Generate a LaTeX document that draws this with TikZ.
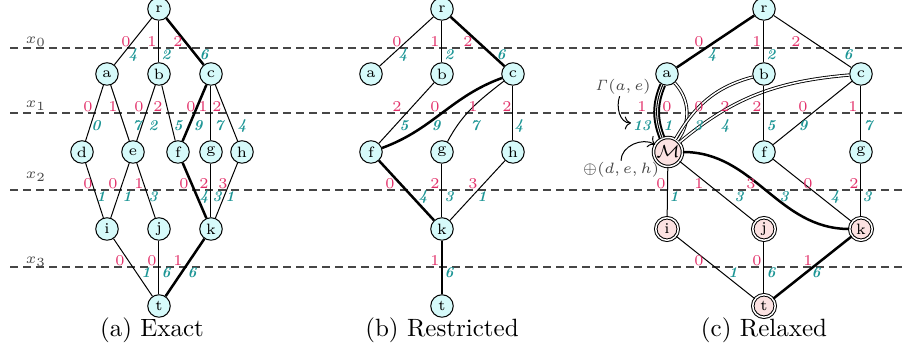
\documentclass[tikz,border=0pt]{standalone}
\usetikzlibrary{arrows.meta}

\definecolor{labred}{RGB}{226,46,104}
\definecolor{labteal}{RGB}{30,150,150}
\definecolor{nodecyan}{RGB}{214,250,250}
\definecolor{nodepink}{RGB}{252,226,226}
\definecolor{guide}{RGB}{70,70,70}

\newcommand{\smallsix}{\fontsize{6}{7}\selectfont}

\tikzset{
  vtx/.style={circle, draw=black, fill=nodecyan, line width=0.4pt,
    minimum size=9pt, inner sep=0pt, font=\smallsix},
  mvtx/.style={vtx, fill=nodepink, double, double distance=0.6pt},
  bigm/.style={mvtx, minimum size=11.6pt, font=\scriptsize},
  plainedge/.style={line width=0.4pt},
  heavy/.style={line width=1pt},
  merged/.style={double, double distance=0.6pt, line width=0.35pt},
  tripleout/.style={double, double distance=1.1pt, line width=0.8pt},
  layer/.style={draw=guide, line width=0.45pt, dash pattern=on 3.2pt off 2pt},
  lname/.style={text=guide, font=\smallsix, inner sep=0pt},
  ann/.style={text=guide, font=\smallsix, inner sep=0.5pt},
  rl/.style={text=labred, font=\smallsix, inner sep=0pt},
  tl/.style={text=labteal, font=\smallsix\bfseries\itshape, inner sep=0pt},
  subcap/.style={font=\normalsize, anchor=base, inner sep=0pt},
}

\begin{document}
\begin{tikzpicture}[x=0.4pt, y=0.4pt]
\useasboundingbox (0,0) rectangle (903,-350);

% layer separators and their names
\foreach \yy/\nm/\ly in {48/0/42, 113/1/106, 190/2/177, 267/3/262} {
  \draw[layer] (10,-\yy) -- (903,-\yy);
  \node[lname] (lay\nm) at (36,-\ly) {$x_{\nm}$};
}

% ---------------- (a) exact ----------------
\node[vtx] (Ar) at (159,-9) {r};
\node[vtx] (Aa) at (107,-74) {a};
\node[vtx] (Ab) at (159,-74) {b};
\node[vtx] (Ac) at (211,-74) {c};
\node[vtx] (Ad) at (82,-152) {d};
\node[vtx] (Ae) at (133,-152) {e};
\node[vtx] (Af) at (178,-152) {f};
\node[vtx] (Ag) at (211,-152) {g};
\node[vtx] (Ah) at (242,-152) {h};
\node[vtx] (Ai) at (107,-229) {i};
\node[vtx] (Aj) at (159,-229) {j};
\node[vtx] (Ak) at (211,-229) {k};
\node[vtx] (At) at (159,-306) {t};

\draw[plainedge] (Ar) -- (Aa);
\draw[plainedge] (Ar) -- (Ab);
\draw[heavy] (Ar) -- (Ac);
\draw[plainedge] (Aa) -- (Ad);
\draw[plainedge] (Aa) -- (Ae);
\draw[plainedge] (Ab) -- (Ae);
\draw[plainedge] (Ab) -- (Af);
\draw[heavy] (Ac) -- (Af);
\draw[plainedge] (Ac) -- (Ag);
\draw[plainedge] (Ac) -- (Ah);
\draw[plainedge] (Ad) -- (Ai);
\draw[plainedge] (Ae) -- (Ai);
\draw[plainedge] (Ae) -- (Aj);
\draw[heavy] (Af) -- (Ak);
\draw[plainedge] (Ag) -- (Ak);
\draw[plainedge] (Ah) -- (Ak);
\draw[plainedge] (Ai) -- (At);
\draw[plainedge] (Aj) -- (At);
\draw[heavy] (Ak) -- (At);

\foreach \x/\t in {126/0,152/1,178/2} \node[rl] (A0r\x) at (\x,-42) {\t};
\foreach \x/\t in {133/4,166/2,204/6} \node[tl] (A0t\x) at (\x,-55) {\t};
\foreach \x/\t in {88/0,113/1,139/0,158/2,191/0,203/1,217/2} \node[rl] (A1r\x) at (\x,-107) {\t};
\foreach \x/\t in {96/0,137/7,153/2,178/5,198/9,219/7,242/4} \node[tl] (A1t\x) at (\x,-126) {\t};
\foreach \x/\t in {88/0,113/0,139/1,184/0,204/2,223/3} \node[rl] (A2r\x) at (\x,-184) {\t};
\foreach \x/\t in {101/1,127/1,153/3,204/4,217/3,230/1} \node[tl] (A2t\x) at (\x,-197) {\t};
\foreach \x/\t in {120/0,152/0,178/1} \node[rl] (A3r\x) at (\x,-261) {\t};
\foreach \x/\t in {146/1,166/6,192/6} \node[tl] (A3t\x) at (\x,-273) {\t};

\node[subcap] (capA) at (152,-337) {(a) Exact};

% ---------------- (b) restricted ----------------
\node[vtx] (Br) at (442,-9) {r};
\node[vtx] (Ba) at (371,-74) {a};
\node[vtx] (Bb) at (442,-74) {b};
\node[vtx] (Bc) at (513,-74) {c};
\node[vtx] (Bf) at (371,-152) {f};
\node[vtx] (Bg) at (442,-152) {g};
\node[vtx] (Bh) at (513,-152) {h};
\node[vtx] (Bk) at (442,-229) {k};
\node[vtx] (Bt) at (442,-306) {t};

\draw[plainedge] (Br) -- (Ba);
\draw[plainedge] (Br) -- (Bb);
\draw[heavy] (Br) -- (Bc);
\draw[plainedge] (Bb) -- (Bf);
\draw[heavy] (Bc) to[out=200, in=20] (Bf);
\draw[plainedge] (Bc) to[out=218, in=62] (Bg);
\draw[plainedge] (Bc) -- (Bh);
\draw[heavy] (Bf) -- (Bk);
\draw[plainedge] (Bg) -- (Bk);
\draw[plainedge] (Bh) -- (Bk);
\draw[heavy] (Bk) -- (Bt);

\foreach \x/\t in {397/0,435/1,468/2} \node[rl] (B0r\x) at (\x,-42) {\t};
\foreach \x/\t in {403/4,449/2,501/6} \node[tl] (B0t\x) at (\x,-55) {\t};
\foreach \x/\t in {397/2,435/0,473/1,507/2} \node[rl] (B1r\x) at (\x,-107) {\t};
\foreach \x/\t in {404/5,436/9,475/7,519/4} \node[tl] (B1t\x) at (\x,-126) {\t};
\foreach \x/\t in {390/0,435/2,473/3} \node[rl] (B2r\x) at (\x,-184) {\t};
\foreach \x/\t in {423/4,449/3,482/1} \node[tl] (B2t\x) at (\x,-197) {\t};
\node[rl] (B3r) at (435,-261) {1};
\node[tl] (B3t) at (449,-273) {6};

\node[subcap] (capB) at (442,-337) {(b) Restricted};

% ---------------- (c) relaxed ----------------
\node[vtx] (Cr) at (764,-9) {r};
\node[vtx] (Ca) at (667,-74) {a};
\node[vtx] (Cb) at (764,-74) {b};
\node[vtx] (Cc) at (861,-74) {c};
\node[bigm] (CM) at (668,-152) {$\mathcal{M}$};
\node[vtx] (Cf) at (764,-152) {f};
\node[vtx] (Cg) at (861,-152) {g};
\node[mvtx] (Ci) at (667,-229) {i};
\node[mvtx] (Cj) at (764,-229) {j};
\node[mvtx] (Ck) at (861,-229) {k};
\node[mvtx] (Ct) at (764,-306) {t};

\draw[heavy] (Cr) -- (Ca);
\draw[plainedge] (Cr) -- (Cb);
\draw[plainedge] (Cr) -- (Cc);
\draw[tripleout] (Ca) to[bend right=22] (CM);
\draw[plainedge] (Ca) to[bend right=22] (CM);
\draw[merged] (Ca) to[bend left=40] (CM);
\draw[merged] (CM) to[out=60, in=195] (Cb);
\draw[merged] (CM) to[out=40, in=185] (Cc);
\draw[plainedge] (Cb) -- (Cf);
\draw[plainedge] (Cc) -- (Cf);
\draw[plainedge] (Cc) -- (Cg);
\draw[plainedge] (CM) -- (Ci);
\draw[plainedge] (CM) -- (Cj);
\draw[heavy] (CM) to[out=0, in=180] (Ck);
\draw[plainedge] (Cf) -- (Ck);
\draw[plainedge] (Cg) -- (Ck);
\draw[plainedge] (Ci) -- (Ct);
\draw[plainedge] (Cj) -- (Ct);
\draw[heavy] (Ck) -- (Ct);

\foreach \x/\t in {699/0,757/1,796/2} \node[rl] (C0r\x) at (\x,-42) {\t};
\foreach \x/\t in {712/4,771/2,848/6} \node[tl] (C0t\x) at (\x,-55) {\t};
\foreach \x/\t in {642/1,667/0,699/0,725/2,757/2,803/0,853/1} \node[rl] (C1r\x) at (\x,-107) {\t};
\foreach \x/\t in {642/13,668/1,698/3,725/4,771/5,803/9,868/7} \node[tl] (C1t\x) at (\x,-126) {\t};
\foreach \x/\t in {661/0,699/1,751/3,808/0,854/2} \node[rl] (C2r\x) at (\x,-184) {\t};
\foreach \x/\t in {674/1,739/3,784/3,835/4,867/3} \node[tl] (C2t\x) at (\x,-197) {\t};
\foreach \x/\t in {699/0,757/0,808/1} \node[rl] (C3r\x) at (\x,-261) {\t};
\foreach \x/\t in {733/1,771/6,816/6} \node[tl] (C3t\x) at (\x,-273) {\t};

% annotations of the merged node
\node[ann] (gam) at (623,-87) {$\mathit{\Gamma}(a,e)$};
\coordinate (gamtip) at (631,-123);
\draw[plainedge, ->] (gam) to[out=250, in=180] (gamtip);
\node[ann] (opl) at (621,-170) {$\oplus(d,e,h)$};
\draw[plainedge, ->] (opl) to[out=90, in=150] (CM);

\node[subcap] (capC) at (764,-337) {(c) Relaxed};
\end{tikzpicture}
\end{document}
